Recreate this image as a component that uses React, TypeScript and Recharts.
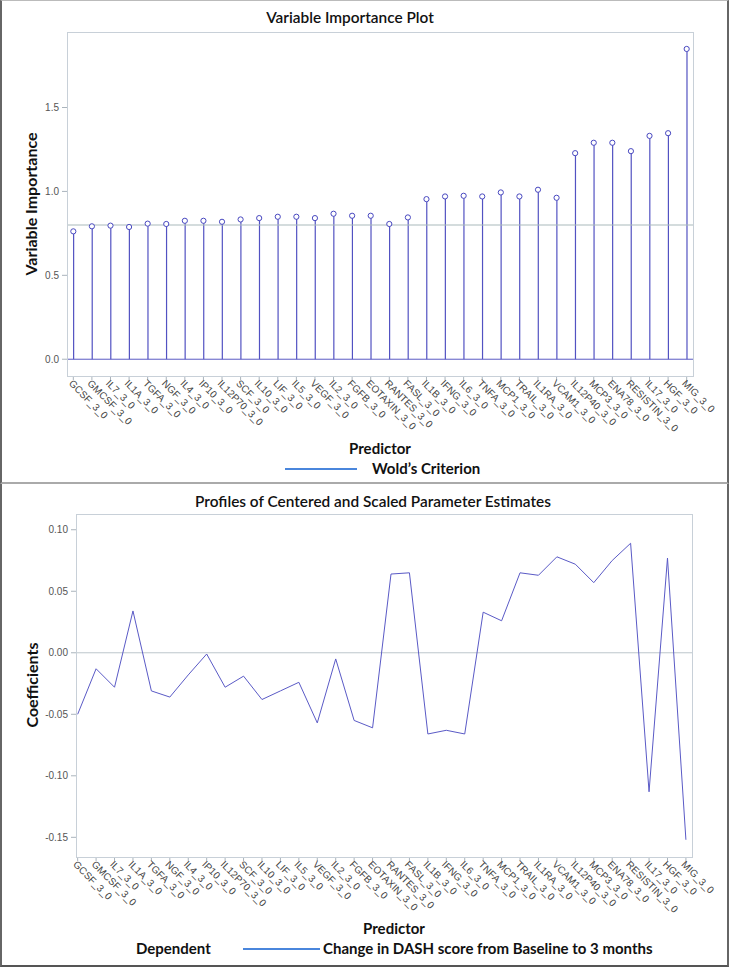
import React from 'react';
import {
  ComposedChart,
  LineChart,
  Bar,
  Line,
  XAxis,
  YAxis,
  ReferenceLine,
} from 'recharts';

// predictors in plot order
const predictors = [
  'GCSF_3_0', 'GMCSF_3_0', 'IL7_3_0', 'IL1A_3_0', 'TGFA_3_0', 'NGF_3_0', 'IL4_3_0',
  'IP10_3_0', 'IL12P70_3_0', 'SCF_3_0', 'IL10_3_0', 'LIF_3_0', 'IL5_3_0', 'VEGF_3_0',
  'IL2_3_0', 'FGFB_3_0', 'EOTAXIN_3_0', 'RANTES_3_0', 'FASL_3_0', 'IL1B_3_0', 'IFNG_3_0',
  'IL6_3_0', 'TNFA_3_0', 'MCP1_3_0', 'TRAIL_3_0', 'IL1RA_3_0', 'VCAM1_3_0', 'IL12P40_3_0',
  'MCP3_3_0', 'ENA78_3_0', 'RESISTIN_3_0', 'IL17_3_0', 'HGF_3_0', 'MIG_3_0',
];

// variable importance (VIP)
const vipValues = [
  0.762, 0.792, 0.796, 0.788, 0.808, 0.806, 0.825, 0.825, 0.819, 0.833, 0.841, 0.849,
  0.849, 0.841, 0.867, 0.855, 0.855, 0.806, 0.845, 0.954, 0.970, 0.974, 0.970, 0.994,
  0.970, 1.010, 0.962, 1.228, 1.290, 1.290, 1.240, 1.331, 1.347, 1.849,
];

// centered & scaled coefficients
const coefValues = [
  -0.050, -0.013, -0.028, 0.034, -0.031, -0.036, -0.018, -0.001, -0.028, -0.019, -0.038,
  -0.031, -0.024, -0.057, -0.005, -0.055, -0.061, 0.064, 0.065, -0.066, -0.063, -0.066,
  0.033, 0.026, 0.065, 0.063, 0.078, 0.072, 0.057, 0.075, 0.089, -0.113, 0.077, -0.152,
];

const vipTicks = [0, 0.5, 1.0, 1.5];
const coefTicks = [-0.15, -0.1, -0.05, 0, 0.05, 0.1];
const vipCutoff = 0.8;
const idxTicks = predictors.map((_, i) => i);

const data = predictors.map((name, i) => ({
  idx: i,
  name,
  vip: vipValues[i],
  coef: coefValues[i],
}));

const textFont = 'Lato, "Open Sans", sans-serif';
const tickFont = '"Liberation Sans", Arial, sans-serif';

const PredictorTick = ({ x, y, payload }: any) => (
  <g transform={`translate(${x - 3},${y})`}>
    <text
      x={0}
      y={0}
      dy={3}
      transform="rotate(45)"
      textAnchor="start"
      fill="#444"
      fontSize={10}
      fontFamily={tickFont}
    >
      {predictors[payload.value]}
    </text>
  </g>
);

const yTick = { fill: '#555', fontSize: 10, fontFamily: tickFont };

const Frame = ({ left, top, width, height }: any) => (
  <div
    style={{
      position: 'absolute',
      left,
      top,
      width,
      height,
      border: '1px solid #c8d0d8',
      boxSizing: 'border-box',
      pointerEvents: 'none',
    }}
  />
);

const Txt = ({ style, children }: any) => (
  <div
    style={{
      position: 'absolute',
      fontFamily: textFont,
      fontWeight: 700,
      color: '#111',
      whiteSpace: 'nowrap',
      lineHeight: 1,
      ...style,
    }}
  >
    {children}
  </div>
);

export default function App() {
  return (
    <div
      style={{
        position: 'absolute',
        left: 0,
        top: 0,
        width: 729,
        height: 967,
        background: '#fff',
        overflow: 'hidden',
      }}
    >
      {/* ---------- Variable Importance Plot ---------- */}
      <div style={{ position: 'absolute', left: 0, top: 0 }}>
        <ComposedChart
          width={729}
          height={483}
          data={data}
          margin={{ top: 32, right: 36, left: 27, bottom: 57 }}
        >
          <XAxis
            dataKey="idx"
            type="number"
            domain={[-0.34, 33.34]}
            ticks={idxTicks}
            interval={0}
            tick={<PredictorTick />}
            tickSize={4}
            tickLine={{ stroke: '#aab4bc' }}
            axisLine={false}
            height={50}
          />
          <YAxis
            type="number"
            domain={[-0.1, 1.95]}
            ticks={vipTicks}
            tickFormatter={(v: number) => v.toFixed(1)}
            tick={yTick}
            tickSize={5}
            tickMargin={3}
            tickLine={{ stroke: '#aab4bc' }}
            axisLine={false}
            width={40}
          />
          <ReferenceLine y={vipCutoff} stroke="#a9b9bb" strokeWidth={1.2} />
          <ReferenceLine y={0} stroke="#5a5ac4" strokeWidth={1} />
          <Bar dataKey="vip" barSize={1.2} fill="#5252c2" isAnimationActive={false} />
          <Line
            dataKey="vip"
            stroke="none"
            dot={{ r: 2.6, fill: '#fff', stroke: '#4848c0', strokeWidth: 1 }}
            activeDot={false}
            isAnimationActive={false}
          />
        </ComposedChart>
        <Frame left={67} top={32} width={627} height={345} />
        <Txt style={{ left: 0, width: 700, top: 10, textAlign: 'center', fontSize: 15.4, fontWeight: 600 }}>
          Variable Importance Plot
        </Txt>
        <Txt
          style={{
            left: 31,
            top: 204,
            fontSize: 16,
            transform: 'translate(-50%, -50%) rotate(-90deg)',
          }}
        >
          Variable Importance
        </Txt>
        <Txt style={{ left: 280, width: 200, top: 441, textAlign: 'center', fontSize: 15 }}>
          Predictor
        </Txt>
        <div
          style={{
            position: 'absolute',
            left: 285,
            top: 468,
            width: 72,
            height: 2,
            background: '#4a86dc',
          }}
        />
        <Txt style={{ left: 372, top: 461, fontSize: 15 }}>Wold’s Criterion</Txt>
      </div>

      {/* ---------- Profiles of Centered and Scaled Parameter Estimates ---------- */}
      <div style={{ position: 'absolute', left: 0, top: 483 }}>
        <LineChart
          width={729}
          height={484}
          data={data}
          margin={{ top: 31, right: 37, left: 31, bottom: 60 }}
        >
          <XAxis
            dataKey="idx"
            type="number"
            domain={[-0.09, 33.33]}
            ticks={idxTicks}
            interval={0}
            tick={<PredictorTick />}
            tickSize={4}
            tickLine={{ stroke: '#aab4bc' }}
            axisLine={false}
            height={50}
          />
          <YAxis
            type="number"
            domain={[-0.166, 0.1128]}
            ticks={coefTicks}
            tickFormatter={(v: number) => v.toFixed(2)}
            tick={yTick}
            tickSize={5}
            tickMargin={3}
            tickLine={{ stroke: '#aab4bc' }}
            axisLine={false}
            width={45}
          />
          <ReferenceLine y={0} stroke="#bcc6cc" strokeWidth={1} />
          <Line
            type="linear"
            dataKey="coef"
            stroke="#5a5ac6"
            strokeWidth={1}
            dot={false}
            activeDot={false}
            isAnimationActive={false}
          />
        </LineChart>
        <Frame left={76} top={31} width={617} height={344} />
        <Txt style={{ left: 0, width: 746, top: 11, textAlign: 'center', fontSize: 15.4, fontWeight: 600 }}>
          Profiles of Centered and Scaled Parameter Estimates
        </Txt>
        <Txt
          style={{
            left: 32,
            top: 202,
            fontSize: 16,
            transform: 'translate(-50%, -50%) rotate(-90deg)',
          }}
        >
          Coefficients
        </Txt>
        <Txt style={{ left: 294, width: 200, top: 438, textAlign: 'center', fontSize: 15 }}>
          Predictor
        </Txt>
        <Txt style={{ left: 136, top: 458, fontSize: 15 }}>Dependent</Txt>
        <div
          style={{
            position: 'absolute',
            left: 243,
            top: 465,
            width: 77,
            height: 2,
            background: '#4a86dc',
          }}
        />
        <Txt style={{ left: 323, top: 458, fontSize: 15 }}>
          Change in DASH score from Baseline to 3 months
        </Txt>
      </div>

      {/* panel borders */}
      <div
        style={{
          position: 'absolute',
          left: 0,
          top: 0,
          width: 729,
          height: 484,
          borderLeft: '2px solid #666',
          borderRight: '2px solid #666',
          borderTop: '1px solid #bbb',
          borderBottom: '2px solid #aaa',
          boxSizing: 'border-box',
        }}
      />
      <div
        style={{
          position: 'absolute',
          left: 0,
          top: 484,
          width: 729,
          height: 483,
          borderLeft: '2px solid #666',
          borderRight: '2px solid #666',
          borderBottom: '2px solid #555',
          boxSizing: 'border-box',
        }}
      />
    </div>
  );
}
